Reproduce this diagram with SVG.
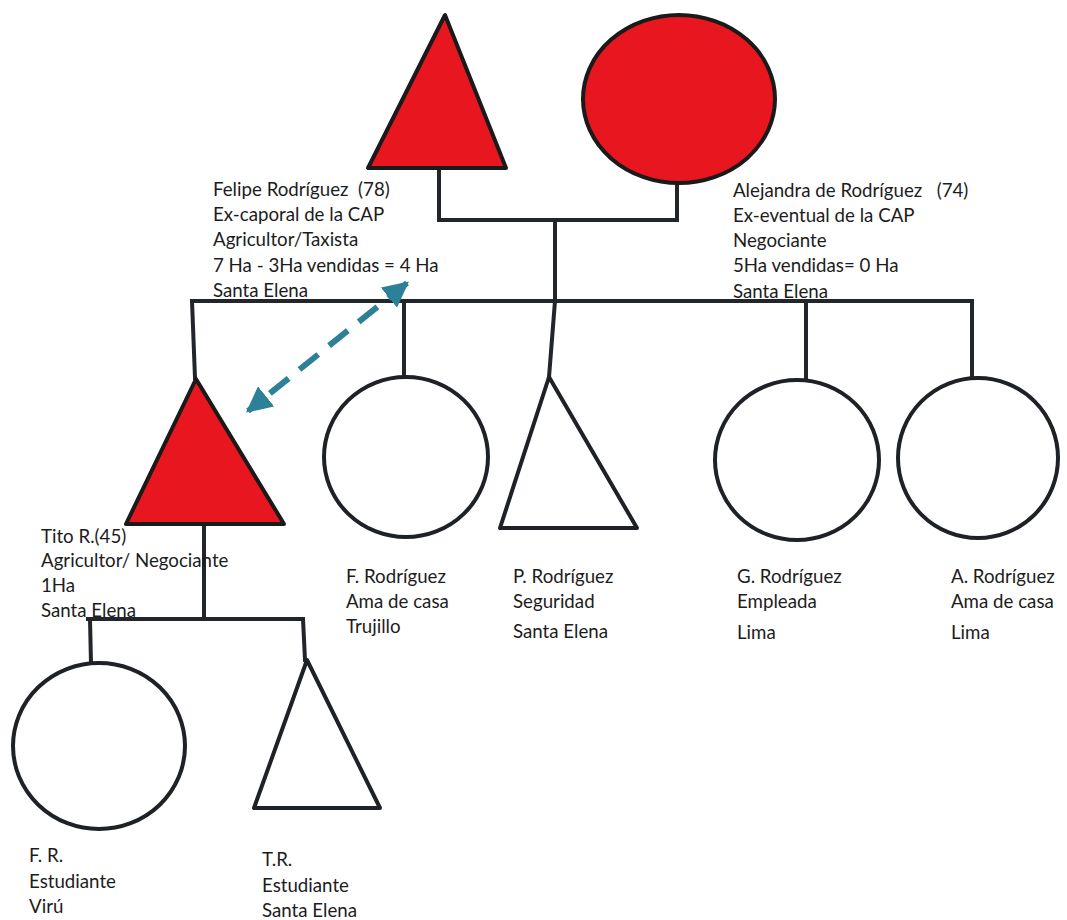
<svg xmlns="http://www.w3.org/2000/svg" width="1067" height="920" viewBox="0 0 1067 920">
  <style>
    .bg { fill: #ffffff; }
    .line { stroke: #22262b; stroke-width: 4; fill: none; stroke-linecap: square; }
    .filled { fill: #e8161f; stroke: #1a1a1a; stroke-width: 4; stroke-linejoin: round; }
    .open { fill: none; stroke: #1e2226; stroke-width: 4; stroke-linejoin: round; }
    .label { font-family: Lato, "Liberation Sans", sans-serif; font-size: 18.7px; fill: #1c1c1c; }
    .link { stroke: #2c8097; stroke-width: 6; fill: none; stroke-dasharray: 24 14; }
  </style>
  <defs>
    <marker id="tip" viewBox="0 0 10 10" refX="9" refY="5" markerWidth="4.3" markerHeight="4.3" orient="auto-start-reverse" markerUnits="strokeWidth">
      <path d="M0,0 L10,5 L0,10 Z" fill="#2c8097"/>
    </marker>
  </defs>

  <rect class="bg" x="0" y="0" width="1067" height="920"/>

  <!-- kinship lines -->
  <g id="connectors">
    <!-- couple line -->
    <polyline class="line" points="439,168 439,220 677,220 677,182"/>
    <line class="line" x1="555" y1="220" x2="555" y2="301"/>
    <!-- sibling line -->
    <line class="line" x1="192" y1="301" x2="972" y2="301"/>
    <line class="line" x1="192" y1="301" x2="195" y2="378"/>
    <line class="line" x1="404" y1="301" x2="404" y2="377"/>
    <line class="line" x1="555" y1="301" x2="549" y2="377"/>
    <line class="line" x1="806" y1="301" x2="806" y2="380"/>
    <line class="line" x1="972" y1="301" x2="972" y2="378"/>
    <!-- Tito's children -->
    <line class="line" x1="204" y1="525" x2="204" y2="619"/>
    <line class="line" x1="88" y1="619" x2="303" y2="619"/>
    <line class="line" x1="90" y1="619" x2="91" y2="663"/>
    <line class="line" x1="303" y1="619" x2="305" y2="660"/>
    <!-- land transfer link -->
    <line class="link" x1="407" y1="283" x2="248" y2="411" marker-start="url(#tip)" marker-end="url(#tip)"/>
  </g>

  <g id="felipe">
    <polygon class="filled" points="445,15 368,168 506,168"/>
    <text class="label" x="213" y="196">Felipe Rodríguez&#160; (78)</text>
    <text class="label" x="213" y="221">Ex-caporal de la CAP</text>
    <text class="label" x="213" y="246">Agricultor/Taxista</text>
    <text class="label" x="213" y="272">7 Ha - 3Ha vendidas = 4 Ha</text>
    <text class="label" x="213" y="297">Santa Elena</text>
  </g>

  <g id="alejandra">
    <ellipse class="filled" cx="679" cy="99" rx="96" ry="84"/>
    <text class="label" x="733" y="197">Alejandra de Rodríguez&#160;&#160; (74)</text>
    <text class="label" x="733" y="222">Ex-eventual de la CAP</text>
    <text class="label" x="733" y="247">Negociante</text>
    <text class="label" x="733" y="272">5Ha vendidas= 0 Ha</text>
    <text class="label" x="733" y="298">Santa Elena</text>
  </g>

  <g id="tito">
    <polygon class="filled" points="196,379 126,524 284,524"/>
    <text class="label" x="41" y="543">Tito R.(45)</text>
    <text class="label" x="41" y="567">Agricultor/ Negociante</text>
    <text class="label" x="41" y="592">1Ha</text>
    <text class="label" x="41" y="617">Santa Elena</text>
  </g>

  <g id="f-rodriguez">
    <ellipse class="open" cx="406" cy="457" rx="82" ry="80"/>
    <text class="label" x="346" y="583">F. Rodríguez</text>
    <text class="label" x="346" y="608">Ama de casa</text>
    <text class="label" x="346" y="633">Trujillo</text>
  </g>

  <g id="p-rodriguez">
    <polygon class="open" points="549,377 500,528 637,528"/>
    <text class="label" x="513" y="583">P. Rodríguez</text>
    <text class="label" x="513" y="608">Seguridad</text>
    <text class="label" x="513" y="638">Santa Elena</text>
  </g>

  <g id="g-rodriguez">
    <ellipse class="open" cx="797" cy="460" rx="82" ry="80"/>
    <text class="label" x="737" y="583">G. Rodríguez</text>
    <text class="label" x="737" y="608">Empleada</text>
    <text class="label" x="737" y="639">Lima</text>
  </g>

  <g id="a-rodriguez">
    <ellipse class="open" cx="978" cy="458" rx="80" ry="80"/>
    <text class="label" x="951" y="583">A. Rodríguez</text>
    <text class="label" x="951" y="608">Ama de casa</text>
    <text class="label" x="951" y="639">Lima</text>
  </g>

  <g id="f-r">
    <ellipse class="open" cx="99" cy="746" rx="86" ry="83"/>
    <text class="label" x="29" y="862">F. R.</text>
    <text class="label" x="29" y="888">Estudiante</text>
    <text class="label" x="29" y="913">Virú</text>
  </g>

  <g id="t-r">
    <polygon class="open" points="307,660 254,808 380,808"/>
    <text class="label" x="262" y="866">T.R.</text>
    <text class="label" x="262" y="892">Estudiante</text>
    <text class="label" x="262" y="917">Santa Elena</text>
  </g>
</svg>
